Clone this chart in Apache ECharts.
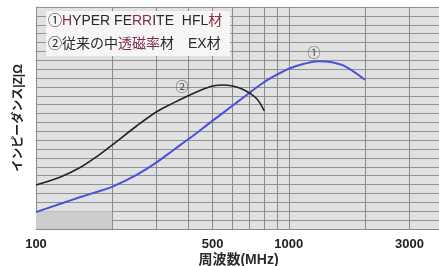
<!DOCTYPE html>
<html>
<head>
<meta charset="utf-8">
<script src="https://cdn.jsdelivr.net/npm/echarts@6/dist/echarts.min.js"></script>
<style>
html,body{margin:0;padding:0;background:#fff}
#chart{width:439px;height:266px}
</style>
</head>
<body>
<div id="chart"></div>
<script>
// axis ticks (MHz)
var freqLabels = [100, 500, 1000, 3000];
var freqLines = [100, 200, 300, 400, 500, 600, 700, 800, 900, 1000, 2000, 3000];

// ① HYPER FERRITE HFL
var hflFreq = [100, 125, 150, 175, 200, 250, 300, 350, 400, 450, 500, 600, 700, 800, 900, 1000, 1150, 1300, 1500, 1700, 2000];
var hflImp  = [1.9, 2.85, 3.6, 4.2, 4.75, 6.1, 7.5, 8.9, 10.1, 11.2, 12.2, 13.9, 15.35, 16.55, 17.4, 18.05, 18.6, 18.9, 18.75, 18.2, 16.8];

// ② EX
var exFreq = [100, 125, 150, 175, 200, 250, 300, 350, 400, 450, 500, 550, 600, 650, 700, 750, 800];
var exImp  = [4.95, 5.85, 6.95, 8.2, 9.45, 11.6, 13.2, 14.2, 15.0, 15.65, 16.1, 16.22, 16.1, 15.8, 15.3, 14.6, 13.3];

function pairs(xs, ys) {
    var out = [];
    for (var i = 0; i < xs.length; i++) out.push([xs[i], ys[i]]);
    return out;
}

var FONT = "'Liberation Sans','Noto Sans CJK JP',sans-serif";
var myChart = echarts.init(document.getElementById('chart'));

var option = {
    animation: false,
    backgroundColor: '#fff',
    grid: {
        left: 36, top: 7, width: 405, height: 222,
        outerBoundsMode: 'none',
        containLabel: false,
        show: true, backgroundColor: '#e1e1e1', borderWidth: 0
    },
    xAxis: {
        type: 'log',
        logBase: 10,
        min: 100,
        max: 4000,
        name: '周波数(MHz)',
        nameLocation: 'middle',
        nameGap: 24,
        nameMoveOverlap: false,
        nameTextStyle: { fontSize: 14, fontWeight: 'bold', color: '#2a2a2a', fontFamily: FONT },
        axisLine: { show: true, lineStyle: { color: '#8a8a8a', width: 1 } },
        axisTick: { show: false, customValues: freqLines },
        axisLabel: {
            customValues: freqLabels,
            formatter: function (v) { return String(Math.round(v)); },
            margin: 9,
            fontSize: 13,
            fontWeight: 'bold',
            color: '#222',
            fontFamily: FONT
        },
        splitLine: { show: true, lineStyle: { color: '#8a8a8a', width: 1 } }
    },
    yAxis: {
        type: 'value',
        min: 0,
        max: 25,
        interval: 1,
        name: 'インピーダンス|Z|Ω',
        nameLocation: 'middle',
        nameRotate: 90,
        nameGap: 11,
        nameMoveOverlap: false,
        nameTextStyle: { fontSize: 12, fontWeight: 'bold', color: '#222', fontFamily: FONT },
        axisLine: { show: true, lineStyle: { color: '#8a8a8a' } },
        axisTick: { show: false },
        axisLabel: { show: false },
        splitLine: { show: true, lineStyle: { color: '#929292', width: 1 } }
    },
    series: [
        {
            name: 'HFL',
            type: 'line',
            data: pairs(hflFreq, hflImp),
            smooth: 0.3,
            showSymbol: false,
            lineStyle: { color: '#4a50d8', width: 2 },
            z: 3,
            markArea: {
                silent: true,
                itemStyle: { color: '#cdcdcd' },
                data: [[{ coord: [100, 0] }, { coord: [200, 2] }]]
            }
        },
        {
            name: 'EX',
            type: 'line',
            data: pairs(exFreq, exImp),
            smooth: 0.3,
            showSymbol: false,
            lineStyle: { color: '#222', width: 1.6 },
            z: 3
        }
    ],
    graphic: [
        { type: 'rect', left: 46, top: 11, shape: { width: 184, height: 45 }, style: { fill: '#f6f6f6' }, z: 10 },
        {
            type: 'text', left: 48, top: 14, z: 11,
            style: {
                text: '{a|①}{r|H}{a|YPER FE}{r|RR}{a|ITE  HFL}{r|材}',
                rich: {
                    a: { fontSize: 14, fontFamily: FONT, fill: '#2a2a2a' },
                    r: { fontSize: 14, fontFamily: FONT, fill: '#8a2a3e' }
                }
            }
        },
        {
            type: 'text', left: 48, top: 37, z: 11,
            style: {
                text: '{a|②従来の中}{r|透磁率}{a|材　EX材}',
                rich: {
                    a: { fontSize: 14, fontFamily: FONT, fill: '#2a2a2a' },
                    r: { fontSize: 14, fontFamily: FONT, fill: '#7a2a4e' }
                }
            }
        },
        {
            type: 'text', x: 314, y: 53, z: 11,
            style: { text: '①', align: 'center', verticalAlign: 'middle', fontSize: 13, fontFamily: FONT, fill: '#555' }
        },
        {
            type: 'text', x: 182, y: 87, z: 11,
            style: { text: '②', align: 'center', verticalAlign: 'middle', fontSize: 13, fontFamily: FONT, fill: '#555' }
        }
    ]
};

myChart.setOption(option);
</script>
</body>
</html>
